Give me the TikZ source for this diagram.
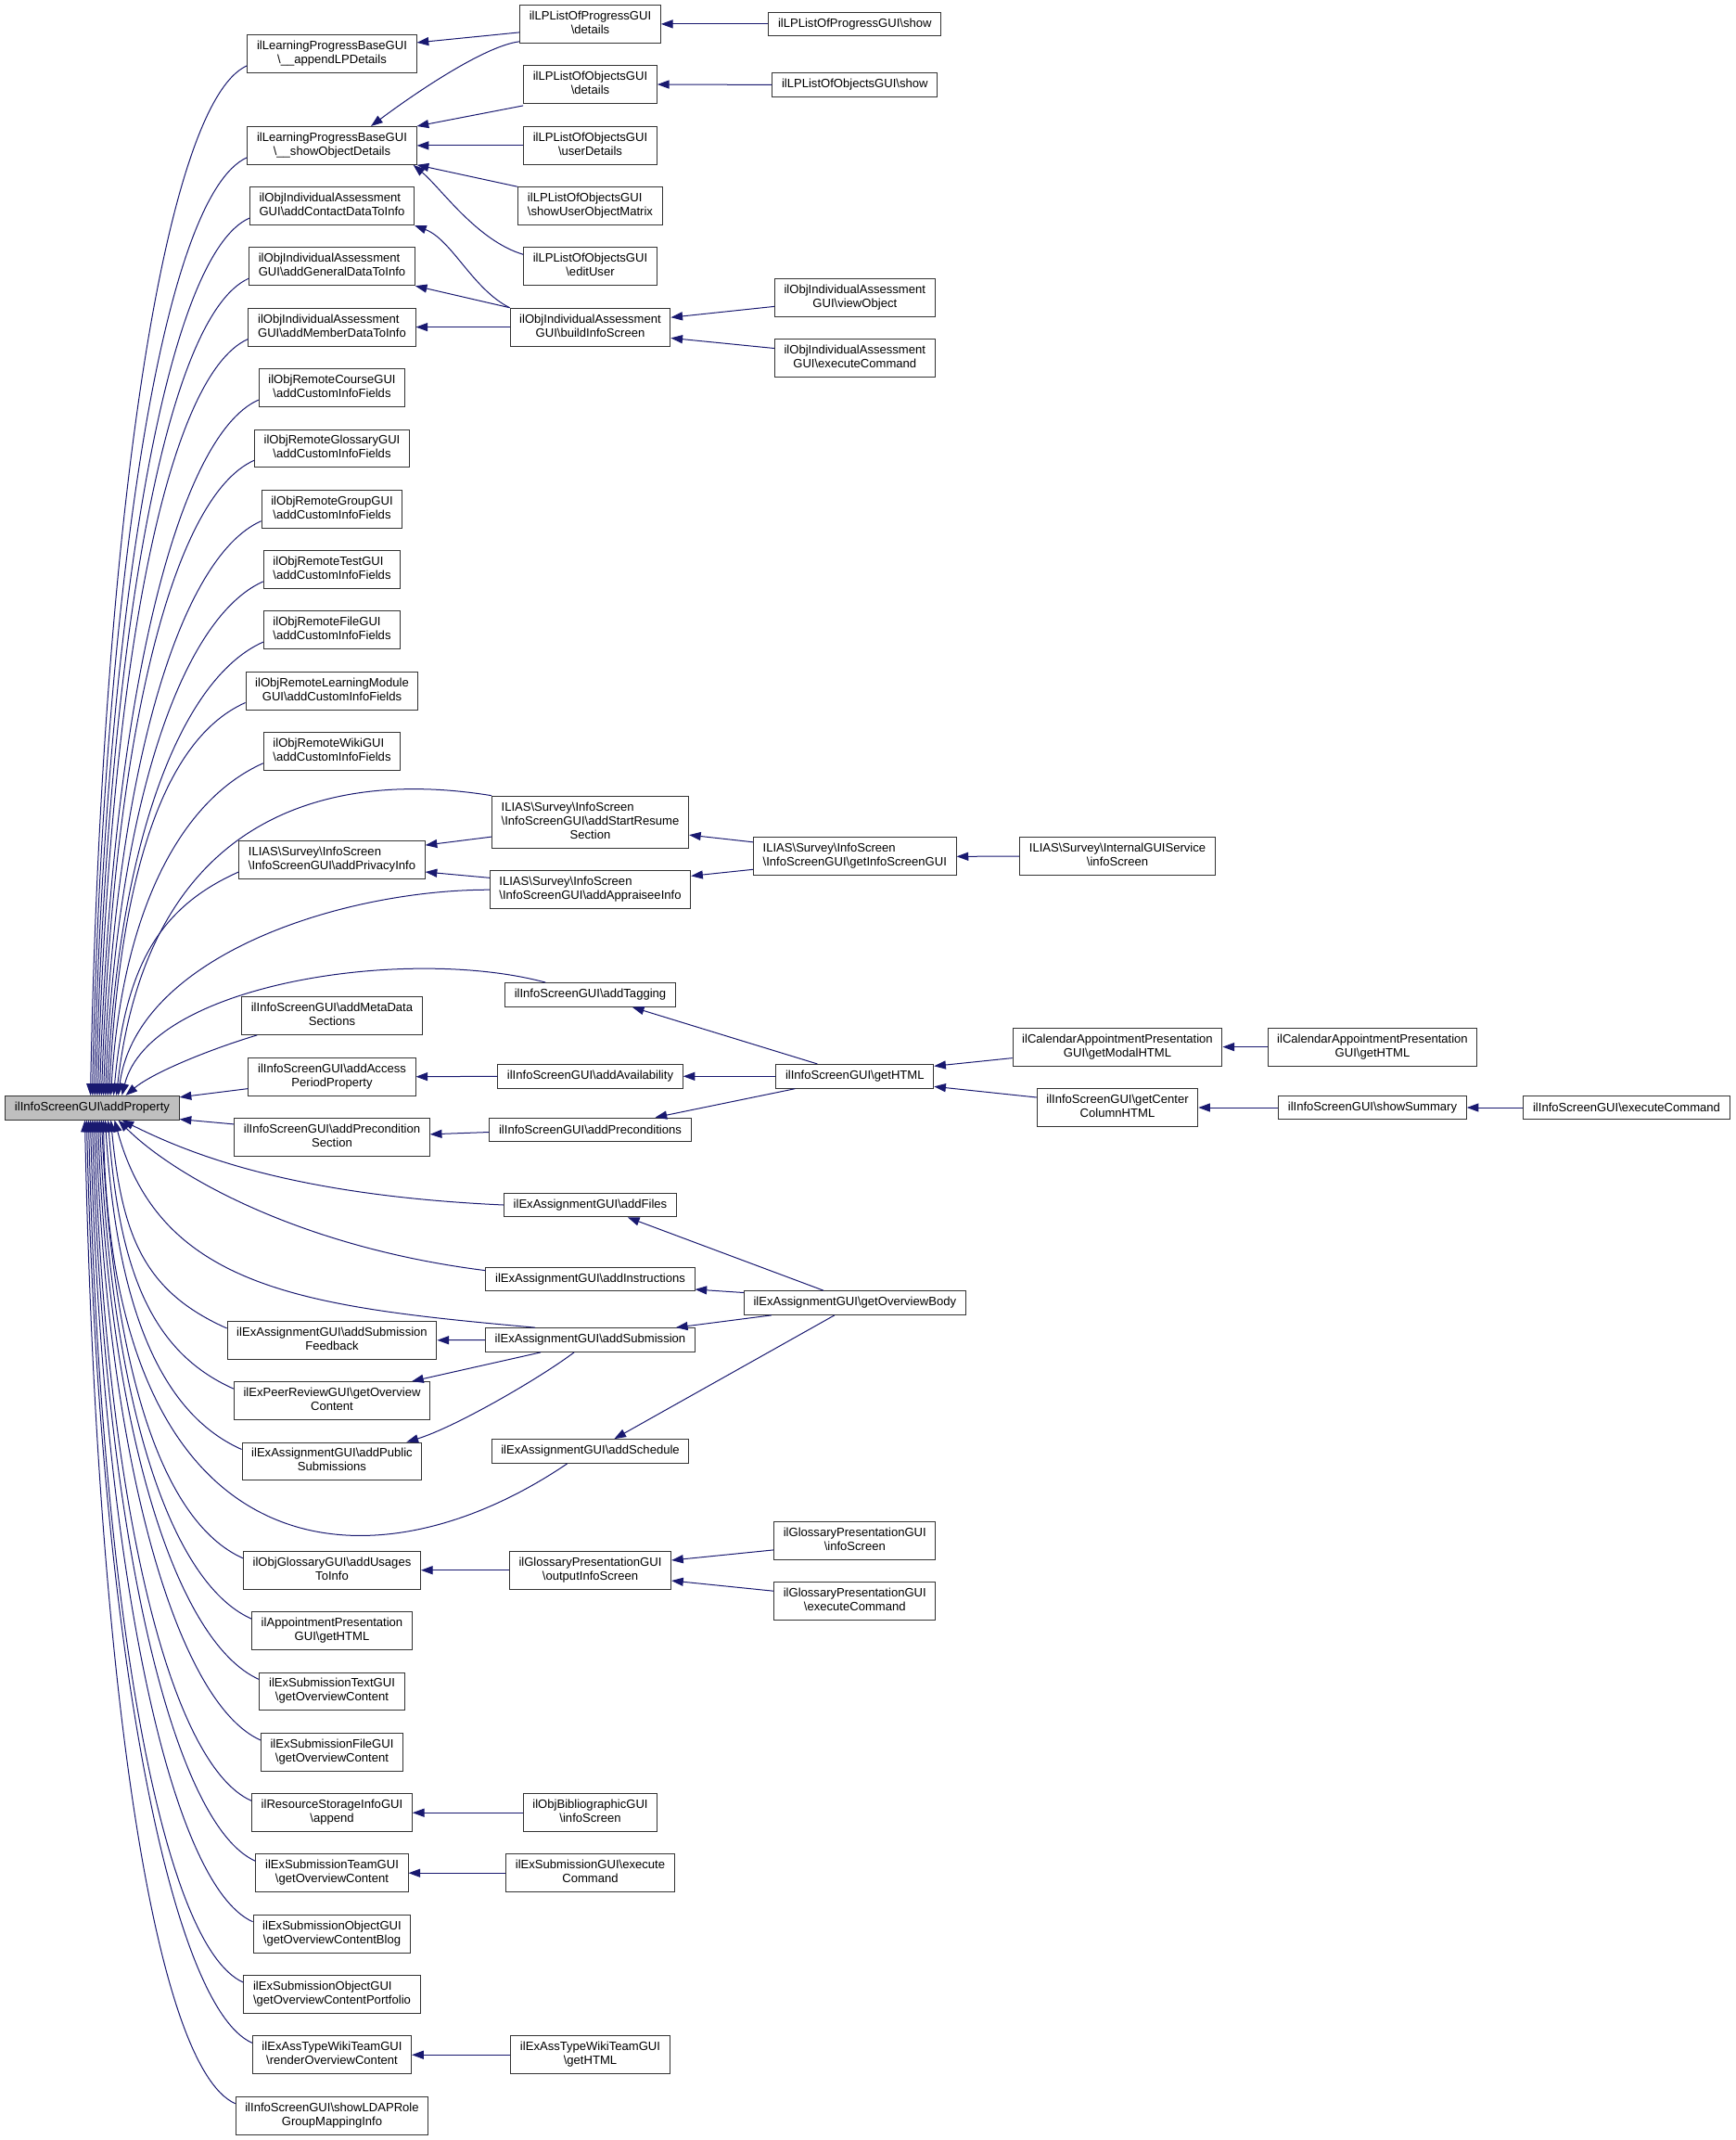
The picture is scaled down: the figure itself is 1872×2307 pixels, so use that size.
\documentclass[tikz,border=0pt]{standalone}
\usepackage{fontspec}
\setmainfont{Liberation Sans}
\usetikzlibrary{arrows.meta,calc}

\definecolor{callblue}{HTML}{191970}
\newcommand\bs{\textbackslash}
% upper lines flush left, last line centred
\newcommand\lbl[2]{\begin{tabular}{@{}l@{}}#1\\\multicolumn{1}{@{}c@{}}{#2}\end{tabular}}
% callers of addProperty, from above and from below
\newcommand\callabove[3]{
  \draw[call] ($(#1.south west)+(0,-8)$) .. controls +(-90,40) and +(12,-#3) .. ($(prop.north)+(#2,0)$) ;
}
\newcommand\callbelow[3]{
  \draw[call] ($(#1.north west)+(0,8)$) .. controls +(-90,-40) and +(12,#3) .. ($(prop.south)+(#2,0)$) ;
}

\tikzset{
  func/.style={draw=black!80, line width=0.75pt, fill=white, inner xsep=7.6pt, inner ysep=4pt, minimum height=19.3pt},
  call/.style={->, color=callblue, line width=0.75pt},
}

\begin{document}
\begin{tikzpicture}[x=0.75pt, y=-0.75pt, >={Triangle[length=9.5pt,width=6.8pt]}, font=\fontsize{9.8}{11.3}\selectfont]
  \useasboundingbox (0,0) rectangle (1872,2307) ;

  \node[func, fill=black!25] (prop) at (99.5,1194.2) {ilInfoScreenGUI\bs addProperty} ;

  % first column
  \node[func] (appendlp)   at (358,57.9)   {\lbl{ilLearningProgressBaseGUI}{\bs\_\_appendLPDetails}} ;
  \node[func] (showobj)    at (358,156.9)  {\lbl{ilLearningProgressBaseGUI}{\bs\_\_showObjectDetails}} ;
  \node[func] (contact)    at (358,222.2)  {\lbl{ilObjIndividualAssessment}{GUI\bs addContactDataToInfo}} ;
  \node[func] (general)    at (358,287.3)  {\lbl{ilObjIndividualAssessment}{GUI\bs addGeneralDataToInfo}} ;
  \node[func] (member)     at (358,352.6)  {\lbl{ilObjIndividualAssessment}{GUI\bs addMemberDataToInfo}} ;
  \node[func] (rcourse)    at (358,418.2)  {\lbl{ilObjRemoteCourseGUI}{\bs addCustomInfoFields}} ;
  \node[func] (rgloss)     at (358,483.4)  {\lbl{ilObjRemoteGlossaryGUI}{\bs addCustomInfoFields}} ;
  \node[func] (rgroup)     at (358,548.8)  {\lbl{ilObjRemoteGroupGUI}{\bs addCustomInfoFields}} ;
  \node[func] (rtest)      at (358,614)    {\lbl{ilObjRemoteTestGUI}{\bs addCustomInfoFields}} ;
  \node[func] (rfile)      at (358,679.2)  {\lbl{ilObjRemoteFileGUI}{\bs addCustomInfoFields}} ;
  \node[func] (rlm)        at (358,744.6)  {\lbl{ilObjRemoteLearningModule}{GUI\bs addCustomInfoFields}} ;
  \node[func] (rwiki)      at (358,809.9)  {\lbl{ilObjRemoteWikiGUI}{\bs addCustomInfoFields}} ;
  \node[func] (privacy)    at (358,927.1)  {\lbl{ILIAS\bs Survey\bs InfoScreen}{\bs InfoScreenGUI\bs addPrivacyInfo}} ;
  \node[func] (metadata)   at (358,1095)   {\lbl{ilInfoScreenGUI\bs addMetaData}{Sections}} ;
  \node[func] (access)     at (358,1160.7) {\lbl{ilInfoScreenGUI\bs addAccess}{PeriodProperty}} ;
  \node[func] (precsec)    at (358,1225.8) {\lbl{ilInfoScreenGUI\bs addPrecondition}{Section}} ;
  \node[func] (feedback)   at (358,1444.8) {\lbl{ilExAssignmentGUI\bs addSubmission}{Feedback}} ;
  \node[func] (peer)       at (358,1510)   {\lbl{ilExPeerReviewGUI\bs getOverview}{Content}} ;
  \node[func] (public)     at (358,1575.4) {\lbl{ilExAssignmentGUI\bs addPublic}{Submissions}} ;
  \node[func] (usages)     at (358,1692.7) {\lbl{ilObjGlossaryGUI\bs addUsages}{ToInfo}} ;
  \node[func] (appoint)    at (358,1758)   {\lbl{ilAppointmentPresentation}{GUI\bs getHTML}} ;
  \node[func] (subtext)    at (358,1823.4) {\lbl{ilExSubmissionTextGUI}{\bs getOverviewContent}} ;
  \node[func] (subfile)    at (358,1888.8) {\lbl{ilExSubmissionFileGUI}{\bs getOverviewContent}} ;
  \node[func] (storage)    at (358,1954.2) {\lbl{ilResourceStorageInfoGUI}{\bs append}} ;
  \node[func] (subteam)    at (358,2019.2) {\lbl{ilExSubmissionTeamGUI}{\bs getOverviewContent}} ;
  \node[func] (blog)       at (358,2084.6) {\lbl{ilExSubmissionObjectGUI}{\bs getOverviewContentBlog}} ;
  \node[func] (portfolio)  at (358,2150)   {\lbl{ilExSubmissionObjectGUI}{\bs getOverviewContentPortfolio}} ;
  \node[func] (wikirender) at (358,2215.2) {\lbl{ilExAssTypeWikiTeamGUI}{\bs renderOverviewContent}} ;
  \node[func] (ldap)       at (358,2280.6) {\lbl{ilInfoScreenGUI\bs showLDAPRole}{GroupMappingInfo}} ;

  % second column
  \node[func] (progdetails)  at (636.5,25.9)   {\lbl{ilLPListOfProgressGUI}{\bs details}} ;
  \node[func] (objdetails)   at (636.5,91)     {\lbl{ilLPListOfObjectsGUI}{\bs details}} ;
  \node[func] (userdetails)  at (636.5,156.9)  {\lbl{ilLPListOfObjectsGUI}{\bs userDetails}} ;
  \node[func] (matrix)       at (636.5,222.2)  {\lbl{ilLPListOfObjectsGUI}{\bs showUserObjectMatrix}} ;
  \node[func] (edituser)     at (636.5,287.3)  {\lbl{ilLPListOfObjectsGUI}{\bs editUser}} ;
  \node[func] (buildinfo)    at (636.5,352.6)  {\lbl{ilObjIndividualAssessment}{GUI\bs buildInfoScreen}} ;
  \node[func] (startresume)  at (636.5,886.1)  {\lbl{ILIAS\bs Survey\bs InfoScreen\\\bs InfoScreenGUI\bs addStartResume}{Section}} ;
  \node[func] (appraisee)    at (636.5,959.2)  {\lbl{ILIAS\bs Survey\bs InfoScreen}{\bs InfoScreenGUI\bs addAppraiseeInfo}} ;
  \node[func] (tagging)      at (636.5,1072.4) {ilInfoScreenGUI\bs addTagging} ;
  \node[func] (availability) at (636.5,1160.3) {ilInfoScreenGUI\bs addAvailability} ;
  \node[func] (preconds)     at (636.5,1218)   {ilInfoScreenGUI\bs addPreconditions} ;
  \node[func] (files)        at (636.5,1299)   {ilExAssignmentGUI\bs addFiles} ;
  \node[func] (instructions) at (636.5,1379)   {ilExAssignmentGUI\bs addInstructions} ;
  \node[func] (submission)   at (636.5,1444.5) {ilExAssignmentGUI\bs addSubmission} ;
  \node[func] (schedule)     at (636.5,1564.5) {ilExAssignmentGUI\bs addSchedule} ;
  \node[func] (outputinfo)   at (636.5,1692.7) {\lbl{ilGlossaryPresentationGUI}{\bs outputInfoScreen}} ;
  \node[func] (biblio)       at (636.5,1954.2) {\lbl{ilObjBibliographicGUI}{\bs infoScreen}} ;
  \node[func] (subexec)      at (636.5,2019.2) {\lbl{ilExSubmissionGUI\bs execute}{Command}} ;
  \node[func] (wikihtml)     at (636.5,2215.2) {\lbl{ilExAssTypeWikiTeamGUI}{\bs getHTML}} ;

  % third column and beyond
  \node[func] (progshow)   at (921.8,25.9)   {ilLPListOfProgressGUI\bs show} ;
  \node[func] (objshow)    at (921.8,91.4)   {ilLPListOfObjectsGUI\bs show} ;
  \node[func] (viewobj)    at (921.8,320.8)  {\lbl{ilObjIndividualAssessment}{GUI\bs viewObject}} ;
  \node[func] (iaexec)     at (921.8,386.2)  {\lbl{ilObjIndividualAssessment}{GUI\bs executeCommand}} ;
  \node[func] (getinfogui) at (921.8,923.3)  {\lbl{ILIAS\bs Survey\bs InfoScreen}{\bs InfoScreenGUI\bs getInfoScreenGUI}} ;
  \node[func] (gethtml)    at (921.8,1160.3) {ilInfoScreenGUI\bs getHTML} ;
  \node[func] (overview)   at (921.8,1404.5) {ilExAssignmentGUI\bs getOverviewBody} ;
  \node[func] (glossinfo)  at (921.8,1660.9) {\lbl{ilGlossaryPresentationGUI}{\bs infoScreen}} ;
  \node[func] (glossexec)  at (921.8,1725.8) {\lbl{ilGlossaryPresentationGUI}{\bs executeCommand}} ;
  \node[func] (internal)   at (1205,923.1)   {\lbl{ILIAS\bs Survey\bs InternalGUIService}{\bs infoScreen}} ;
  \node[func] (calmodal)   at (1205,1128.6)  {\lbl{ilCalendarAppointmentPresentation}{GUI\bs getModalHTML}} ;
  \node[func] (centercol)  at (1205,1194)    {\lbl{ilInfoScreenGUI\bs getCenter}{ColumnHTML}} ;
  \node[func] (calhtml)    at (1480,1128.6)  {\lbl{ilCalendarAppointmentPresentation}{GUI\bs getHTML}} ;
  \node[func] (summary)    at (1480,1194)    {ilInfoScreenGUI\bs showSummary} ;
  \node[func] (isexec)     at (1754,1194)    {ilInfoScreenGUI\bs executeCommand} ;

  % into addProperty
  \callabove{appendlp}{-2}{611}
  \callabove{showobj}{0}{557}
  \callabove{contact}{2}{521}
  \callabove{general}{4}{485}
  \callabove{member}{6}{449}
  \callabove{rcourse}{8}{413}
  \callabove{rgloss}{10}{377}
  \callabove{rgroup}{12}{341}
  \callabove{rtest}{14}{305}
  \callabove{rfile}{16}{270}
  \callabove{rlm}{18}{233}
  \callabove{rwiki}{20}{197}
  \callabove{privacy}{23}{133}
  \draw[call] (startresume.north west) .. controls +(-179,-29) and +(34,-300) .. ($(prop.north)+(26,0)$) ;
  \draw[call] (appraisee.west) .. controls +(-160,0) and +(20,-150) .. ($(prop.north)+(28,0)$) ;
  \draw[call] ($(tagging.north west)+(44,0)$) .. controls +(-150,-40) and +(30,-120) .. ($(prop.north)+(32,0)$) ;
  \draw[call] ($(metadata.south west)+(17,0)$) .. controls +(-50,15) and +(30,-25) .. ($(prop.north)+(36,0)$) ;
  \draw[call] ($(access.south west)+(0,-8)$) -- ($(prop.north east)+(0,2)$) ;
  \draw[call] ($(precsec.north west)+(0,7)$) -- ($(prop.south east)+(0,-1)$) ;
  \draw[call] (files.west) .. controls +(-220,-10) and +(80,40) .. ($(prop.south)+(32,0)$) ;
  \draw[call] ($(instructions.north west)+(0,4)$) .. controls +(-200,-25) and +(60,60) .. ($(prop.south)+(28,0)$) ;
  \draw[call] ($(submission.north west)+(54,0)$) .. controls +(-245,-22) and +(50,183) .. ($(prop.south)+(24,0)$) ;
  \draw[call] ($(schedule.south west)+(82,0)$) .. controls +(-211,143) and +(8,493) .. ($(prop.south)+(12,0)$) ;
  \callbelow{feedback}{20}{124}
  \callbelow{peer}{17}{160}
  \callbelow{public}{14}{196}
  \callbelow{usages}{10}{261}
  \callbelow{appoint}{8}{296}
  \callbelow{subtext}{6}{332}
  \callbelow{subfile}{4}{368}
  \callbelow{storage}{2}{404}
  \callbelow{subteam}{0}{440}
  \callbelow{blog}{-2}{476}
  \callbelow{portfolio}{-4}{512}
  \callbelow{wikirender}{-6}{548}
  \callbelow{ldap}{-8}{584}

  % second column into first
  \draw[call] ($(progdetails.west)+(0,9)$) -- ($(appendlp.east)+(0,-12)$) ;
  \draw[call] ($(progdetails.south west)+(0,-2)$) .. controls +(-40,5) and +(40,-30) .. ($(showobj.north)+(42,0)$) ;
  \draw[call] ($(objdetails.south west)+(0,2)$) -- (showobj.north east) ;
  \draw[call] (userdetails.west) -- (showobj.east) ;
  \draw[call] (matrix.north west) -- (showobj.south east) ;
  \draw[call] ($(edituser.west)+(0,-13)$) .. controls +(-50,-15) and +(30,25) .. ($(showobj.south east)+(-4,0)$) ;
  \draw[call] (buildinfo.north west) .. controls +(-40,-20) and +(40,15) .. (contact.south east) ;
  \draw[call] (buildinfo.north west) -- (general.south east) ;
  \draw[call] (buildinfo.west) -- (member.east) ;
  \draw[call] ($(startresume.west)+(0,16)$) -- ($(privacy.east)+(0,-16)$) ;
  \draw[call] ($(appraisee.north west)+(0,8)$) -- ($(privacy.south east)+(0,-8)$) ;
  \draw[call] (availability.west) -- (access.east) ;
  \draw[call] ($(preconds.west)+(0,2.5)$) -- ($(precsec.east)+(0,-3)$) ;
  \draw[call] (submission.west) -- (feedback.east) ;
  \draw[call] ($(submission.south west)+(60,0)$) -- ($(peer.north east)+(-20,0)$) ;
  \draw[call] ($(submission.south west)+(96,0)$) .. controls +(-40,30) and +(50,-15) .. ($(public.north east)+(-17,0)$) ;
  \draw[call] (outputinfo.west) -- (usages.east) ;
  \draw[call] (biblio.west) -- (storage.east) ;
  \draw[call] (subexec.west) -- (subteam.east) ;
  \draw[call] (wikihtml.west) -- (wikirender.east) ;

  % third column into second
  \draw[call] (progshow.west) -- (progdetails.east) ;
  \draw[call] (objshow.west) -- (objdetails.east) ;
  \draw[call] ($(viewobj.west)+(0,9.6)$) -- ($(buildinfo.east)+(0,-10.4)$) ;
  \draw[call] ($(iaexec.west)+(0,-10.7)$) -- ($(buildinfo.east)+(0,11.8)$) ;
  \draw[call] ($(getinfogui.west)+(0,-15.5)$) -- ($(startresume.east)+(0,14)$) ;
  \draw[call] ($(getinfogui.west)+(0,14)$) -- ($(appraisee.north east)+(0,6)$) ;
  \draw[call] ($(gethtml.north west)+(45,0)$) -- ($(tagging.south east)+(-47,0)$) ;
  \draw[call] (gethtml.west) -- (availability.east) ;
  \draw[call] ($(gethtml.south west)+(21,0)$) -- ($(preconds.north east)+(-39,0)$) ;
  \draw[call] ($(overview.north west)+(86,0)$) -- ($(files.south east)+(-53,0)$) ;
  \draw[call] ($(overview.west)+(0,-11)$) -- ($(instructions.east)+(0,11)$) ;
  \draw[call] ($(overview.south west)+(30,0)$) -- ($(submission.north east)+(-21,0)$) ;
  \draw[call] ($(overview.south west)+(98,0)$) -- ($(schedule.north east)+(-81,0)$) ;
  \draw[call] ($(glossinfo.west)+(0,10)$) -- ($(outputinfo.east)+(0,-10.7)$) ;
  \draw[call] ($(glossexec.west)+(0,-10.6)$) -- ($(outputinfo.east)+(0,11.3)$) ;

  % further right
  \draw[call] (internal.west) -- (getinfogui.east) ;
  \draw[call] ($(calmodal.west)+(0,12)$) -- ($(gethtml.east)+(0,-11)$) ;
  \draw[call] ($(centercol.west)+(0,-11)$) -- ($(gethtml.east)+(0,11)$) ;
  \draw[call] (calhtml.west) -- (calmodal.east) ;
  \draw[call] (summary.west) -- (centercol.east) ;
  \draw[call] (isexec.west) -- (summary.east) ;
\end{tikzpicture}
\end{document}
